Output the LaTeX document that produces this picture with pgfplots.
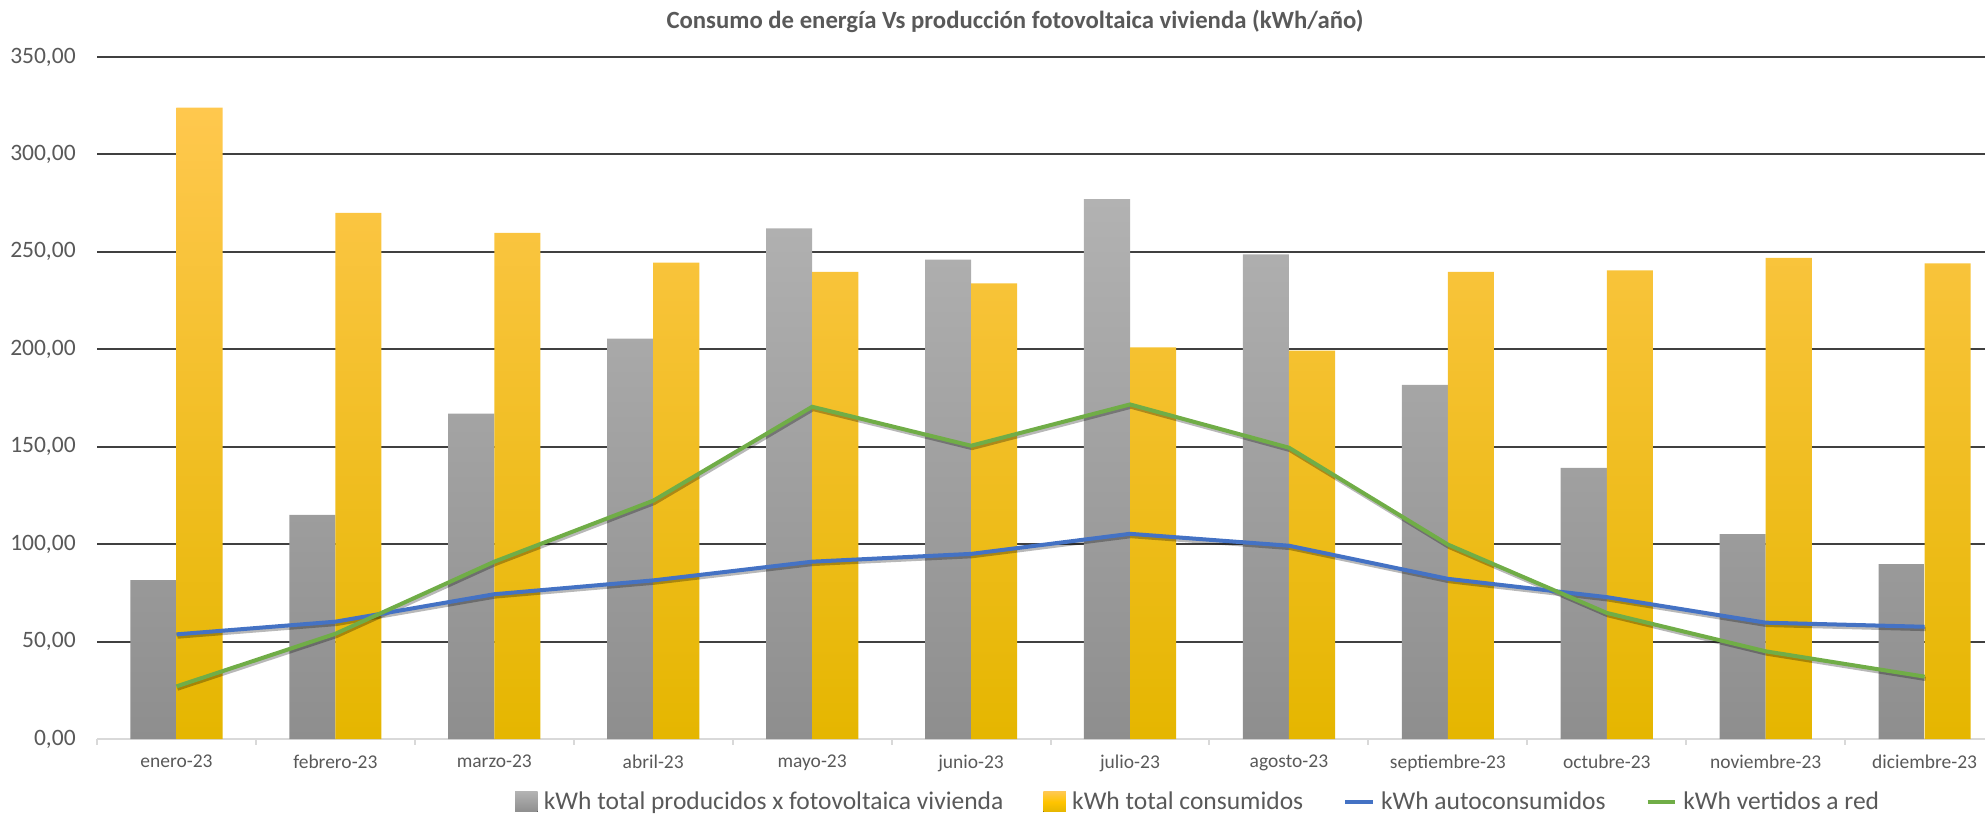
\documentclass[border=0pt]{standalone}
\usepackage{pgfplots}
\pgfplotsset{compat=1.18}
\usepackage{fontspec}
\setmainfont{Carlito}
\definecolor{txt}{HTML}{595959}
\definecolor{greyTop}{HTML}{B2B2B2}
\definecolor{greyBot}{HTML}{8E8E8E}
\definecolor{orTop}{HTML}{FFC84E}
\definecolor{orMid}{HTML}{FFC400}
\definecolor{orBot}{HTML}{E5B600}
\definecolor{blueL}{HTML}{4472C4}
\definecolor{greenL}{HTML}{70AD47}
\definecolor{gridc}{HTML}{404040}
\definecolor{axisc}{HTML}{D9D9D9}

\pgfplotstableread{
x prod cons auto vert
0  81.5 324.0 53.7  27.0
1 115.0 270.0 60.2  54.0
2 167.0 259.7 74.3  91.0
3 205.5 244.5 81.4 122.3
4 262.0 239.7 91.0 170.5
5 246.0 233.8 95.0 150.5
6 277.0 201.0 105.3 171.7
7 248.7 199.3 99.2 149.5
8 181.8 239.7 82.2  99.8
9 139.2 240.5 72.8  64.7
10 105.2 246.9 59.7  45.0
11 89.8 244.1 57.6  32.0
}\datatable

\begin{document}
\begin{tikzpicture}
\path[use as bounding box] (0,0) rectangle (794pt,326.8pt);
\begin{axis}[
  at={(38.8pt,31.2pt)}, anchor=south west,
  scale only axis, width=755.2pt, height=272.8pt,
  xmin=-0.5, xmax=11.38, ymin=0, ymax=350,
  clip=true,
  axis x line*=bottom, axis y line*=left,
  y axis line style={draw=none},
  x axis line style={draw=axisc, line width=1pt},
  xtick={0,...,11},
  xticklabels={enero-23,febrero-23,marzo-23,abril-23,mayo-23,junio-23,julio-23,agosto-23,septiembre-23,octubre-23,noviembre-23,diciembre-23},
  minor xtick={-0.5,0.5,...,11.5},
  major tick length=0pt, minor tick length=2.2pt, tick align=outside,
  minor tick style={draw=axisc, line width=0.8pt},
  ytick={50,100,...,350},
  extra y ticks={0}, extra y tick style={ymajorgrids=false},
  ymajorgrids, major grid style={draw=gridc, line width=0.75pt},
  yticklabel style={font=\fontsize{9.4}{11}\selectfont, text=txt, anchor=east, xshift=-5pt},
  xticklabel style={font=\fontsize{7.8}{9}\selectfont, text=txt, yshift=-3pt},
  /pgf/number format/.cd, fixed, fixed zerofill, precision=2, use comma, 1000 sep={}, assume math mode=true,
  /pgfplots/.cd,
  legend columns=4,
  legend style={draw=none, fill=none, font=\fontsize{10.2}{12}\selectfont, text=txt,
    at={(axis description cs:0.584,-0.093)}, anchor=center,
    /tikz/every odd column/.append style={column sep=0.5pt},
    /tikz/every even column/.append style={column sep=14pt}},
]
\addplot[ybar, bar width=0.29, bar shift=-0.145, draw=none, top color=greyTop, bottom color=greyBot,
  legend image code/.code={\fill[top color=greyTop, bottom color=greyBot] (0pt,-3.8pt) rectangle (9pt,4.2pt);}]
  table[x=x, y=prod] {\datatable};
\addlegendentry{kWh total producidos x fotovoltaica vivienda}
\addplot[ybar, bar width=0.29, bar shift=0.145, draw=none, top color=orTop, middle color=orMid, bottom color=orBot,
  legend image code/.code={\fill[top color=orTop, bottom color=orBot, middle color=orMid] (0pt,-3.8pt) rectangle (9pt,4.2pt);}]
  table[x=x, y=cons] {\datatable};
\addlegendentry{kWh total consumidos}
\addplot[forget plot, black, opacity=0.28, line width=1.7pt, yshift=-0.9pt, xshift=0.4pt] table[x=x, y=auto] {\datatable};
\addplot[forget plot, black, opacity=0.28, line width=1.7pt, yshift=-0.9pt, xshift=0.4pt] table[x=x, y=vert] {\datatable};
\addplot[blueL, line width=1.6pt, mark=none,
  legend image code/.code={\draw[blueL, line width=1.6pt] (0pt,0pt) -- (11pt,0pt);}]
  table[x=x, y=auto] {\datatable};
\addlegendentry{kWh autoconsumidos}
\addplot[greenL, line width=1.6pt, mark=none,
  legend image code/.code={\draw[greenL, line width=1.6pt] (0pt,0pt) -- (11pt,0pt);}]
  table[x=x, y=vert] {\datatable};
\addlegendentry{kWh vertidos a red}
\end{axis}
\node[font=\bfseries\fontsize{9.9}{12}\selectfont, text=txt] at (406pt,318.2pt) {Consumo de energía Vs producción fotovoltaica vivienda (kWh/año)};
\end{tikzpicture}
\end{document}
